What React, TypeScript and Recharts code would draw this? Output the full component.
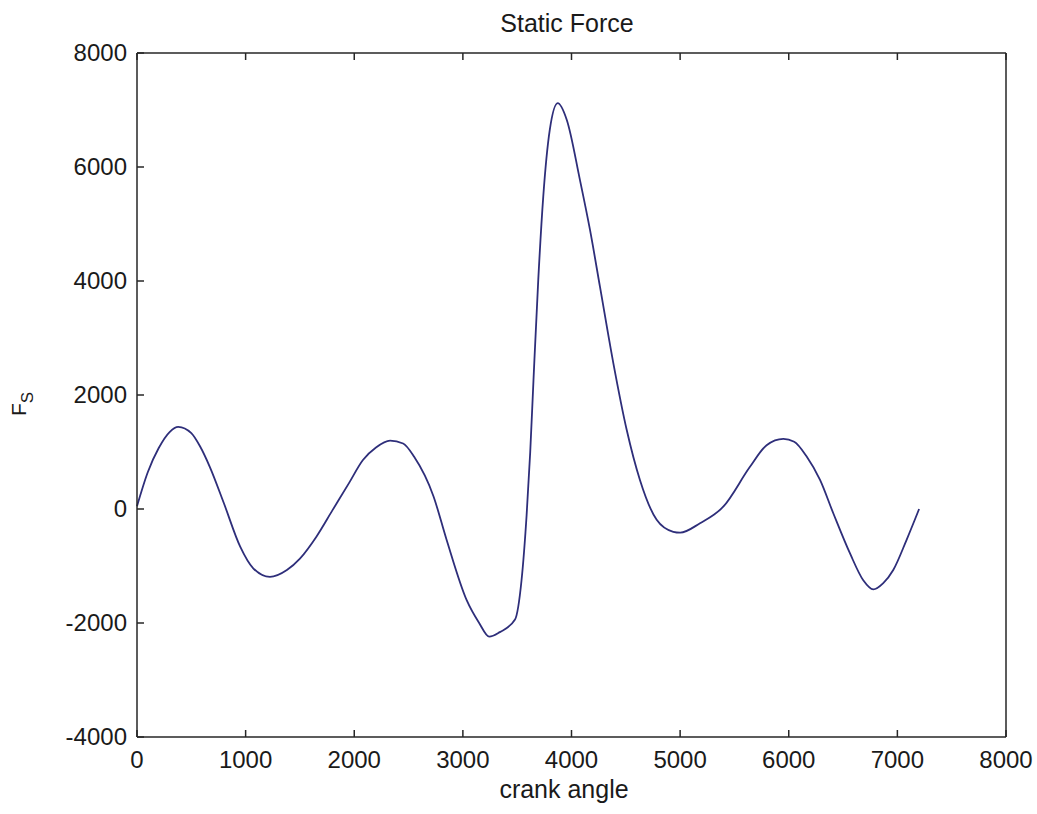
import React from 'react';
import { LineChart, Line, XAxis, YAxis, Customized } from 'recharts';

// crank angle (deg) and static force
const crankAngle = [
  0, 100, 200, 300, 380, 500, 580, 670, 800, 950, 1070, 1224, 1380, 1500, 1650,
  1800, 1950, 2080, 2200, 2330, 2450, 2550, 2730, 2850, 3035, 3150, 3243, 3340,
  3480, 3540, 3587, 3620, 3650, 3694, 3740, 3800, 3873, 3956, 4078, 4170, 4262,
  4385, 4508, 4630, 4784, 4937, 5000, 5183, 5397, 5643, 5796, 5950, 6050, 6165,
  6288, 6410, 6564, 6686, 6778, 6870, 6962, 7085, 7200,
];
const staticForce = [
  50, 650, 1070, 1350, 1440, 1330, 1100, 740, 100, -660, -1040, -1190, -1070, -870, -490,
  -20, 450, 860, 1080, 1200, 1150, 920, 220, -540, -1600, -2000, -2240, -2160,
  -1940, -1250, -100, 1000, 2260, 4020, 5480, 6650, 7120, 6830, 5770, 4900, 3900,
  2560, 1390, 510, -190, -400, -415, -250, 40, 740, 1120, 1230, 1180, 920,
  510, -75, -780, -1250, -1410, -1300, -1070, -540, 0,
];
const xTicks = [0, 1000, 2000, 3000, 4000, 5000, 6000, 7000, 8000];
const yTicks = [-4000, -2000, 0, 2000, 4000, 6000, 8000];

const data = crankAngle.map((a, i) => ({ angle: a, force: staticForce[i] }));

const font = '"Liberation Sans", Arial, sans-serif';
const axisColor = '#262626';
const textColor = '#1a1a1a';
const TICK = 7;

// matlab style: tick marks point into the box
const BottomTick = ({ x, y, payload }: any) => (
  <g>
    <line x1={x} y1={y} x2={x} y2={y - TICK} stroke={axisColor} strokeWidth={1.5} />
    <text x={x} y={y + 31} textAnchor="middle" fontSize={24} fontFamily={font} fill={textColor}>
      {payload.value}
    </text>
  </g>
);
const LeftTick = ({ x, y, payload }: any) => (
  <g>
    <line x1={x} y1={y} x2={x + TICK} y2={y} stroke={axisColor} strokeWidth={1.5} />
    <text x={x - 10} y={y + 8} textAnchor="end" fontSize={24} fontFamily={font} fill={textColor}>
      {payload.value}
    </text>
  </g>
);
const TopTick = ({ x, y }: any) => (
  <line x1={x} y1={y} x2={x} y2={y + TICK} stroke={axisColor} strokeWidth={1.5} />
);
const RightTick = ({ x, y }: any) => (
  <line x1={x} y1={y} x2={x - TICK} y2={y} stroke={axisColor} strokeWidth={1.5} />
);

const Labels = () => (
  <g fontFamily={font} fill={textColor}>
    <text x={567} y={32} fontSize={25} textAnchor="middle">Static Force</text>
    <text x={564} y={798} fontSize={25} textAnchor="middle">crank angle</text>
    <text transform="translate(26,404) rotate(-90)" fontSize={21} textAnchor="middle">
      F<tspan dy={7} fontSize={17}>S</tspan>
    </text>
  </g>
);

export default function App() {
  return (
    <div style={{ position: 'absolute', left: 0, top: 0, width: 1037, height: 814, background: '#fff' }}>
      <LineChart
        width={1037}
        height={814}
        data={data}
        margin={{ top: 43, right: 21, bottom: 47, left: 77 }}
      >
        <XAxis
          xAxisId="bottom"
          dataKey="angle"
          type="number"
          domain={[0, 8000]}
          ticks={xTicks}
          height={30}
          tickSize={0}
          tickMargin={0}
          tickLine={false}
          tick={BottomTick}
          stroke={axisColor}
          strokeWidth={1.5}
          interval={0}
        />
        <XAxis
          xAxisId="top"
          orientation="top"
          dataKey="angle"
          type="number"
          domain={[0, 8000]}
          ticks={xTicks}
          height={10}
          tickSize={0}
          tickMargin={0}
          tickLine={false}
          tick={TopTick}
          stroke={axisColor}
          strokeWidth={1.5}
          interval={0}
        />
        <YAxis
          yAxisId="left"
          type="number"
          domain={[-4000, 8000]}
          ticks={yTicks}
          width={60}
          tickSize={0}
          tickMargin={0}
          tickLine={false}
          tick={LeftTick}
          stroke={axisColor}
          strokeWidth={1.5}
          interval={0}
        />
        <YAxis
          yAxisId="right"
          orientation="right"
          type="number"
          domain={[-4000, 8000]}
          ticks={yTicks}
          width={10}
          tickSize={0}
          tickMargin={0}
          tickLine={false}
          tick={RightTick}
          stroke={axisColor}
          strokeWidth={1.5}
          interval={0}
        />
        <Line
          xAxisId="bottom"
          yAxisId="left"
          type="monotone"
          dataKey="force"
          stroke="#2e2e7a"
          strokeWidth={1.8}
          dot={false}
          isAnimationActive={false}
        />
        <Customized component={Labels} />
      </LineChart>
    </div>
  );
}
